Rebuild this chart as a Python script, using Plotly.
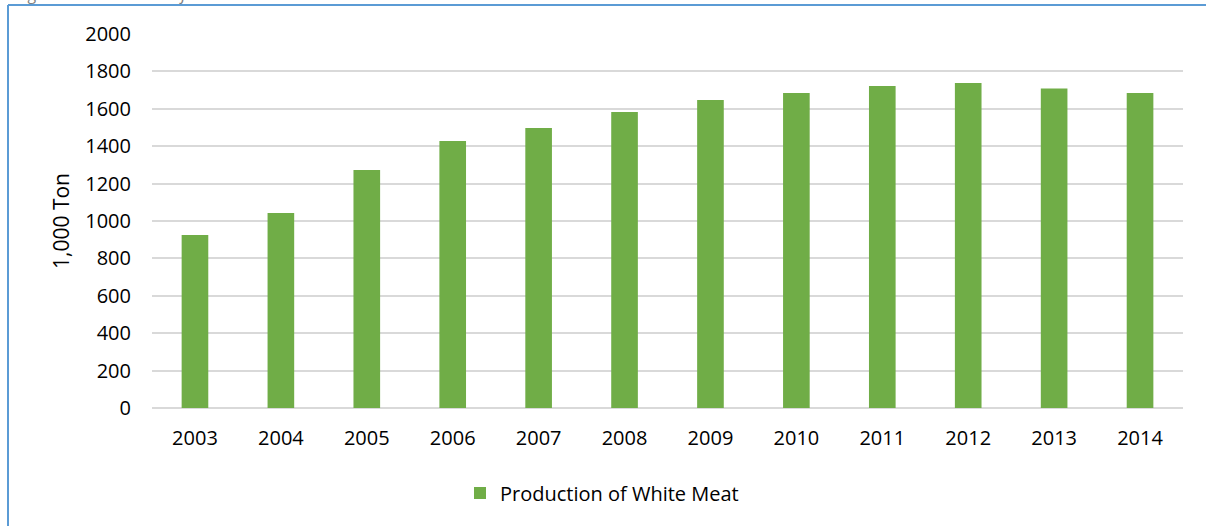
import plotly.graph_objects as go

years = ["2003", "2004", "2005", "2006", "2007", "2008",
         "2009", "2010", "2011", "2012", "2013", "2014"]
production = [925, 1043, 1273, 1428, 1497, 1583, 1647, 1684, 1722, 1738, 1709, 1685]
series_name = "Production of White Meat"
y_ticks = [0, 200, 400, 600, 800, 1000, 1200, 1400, 1600, 1800, 2000]

W, H = 1206, 526
M_L, M_R, M_T, M_B = 152, 23, 34, 118
plot_w = W - M_L - M_R
plot_h = H - M_T - M_B


def px_to_paper_x(px):
    return (px - M_L) / plot_w


def px_to_paper_y(py):
    return (H - M_B - py) / plot_h


fig = go.Figure()
fig.add_trace(go.Bar(
    x=years, y=production, name=series_name,
    marker=dict(color="#70ad47", line=dict(width=0)),
    width=0.31,
))

frame_color = "#5b9bd5"
fig.add_shape(type="line", xref="paper", yref="paper",
              x0=px_to_paper_x(8), x1=px_to_paper_x(W + 5),
              y0=px_to_paper_y(5), y1=px_to_paper_y(5),
              line=dict(color=frame_color, width=2))
fig.add_shape(type="line", xref="paper", yref="paper",
              x0=px_to_paper_x(8), x1=px_to_paper_x(8),
              y0=px_to_paper_y(5), y1=px_to_paper_y(H + 5),
              line=dict(color=frame_color, width=2))

# caption above the frame, running off the top edge
fig.add_annotation(text="<i>Figure 4: Production of White Meat</i>",
                   xref="paper", yref="paper",
                   x=px_to_paper_x(14), y=px_to_paper_y(-7),
                   xanchor="left", yanchor="middle", showarrow=False,
                   font=dict(family="Open Sans", size=17, color="#7f7f7f"))

fig.update_layout(
    width=W, height=H,
    margin=dict(l=M_L, r=M_R, t=M_T, b=M_B),
    paper_bgcolor="white", plot_bgcolor="white",
    font=dict(family="Open Sans", size=20, color="#000000"),
    showlegend=True,
    legend=dict(orientation="h", x=px_to_paper_x(460), xanchor="left",
                y=px_to_paper_y(493), yanchor="middle",
                font=dict(size=20)),
    bargap=0.69,
)
fig.update_xaxes(type="category", showgrid=False, showline=False,
                 ticks="", tickfont=dict(size=20), ticklabelstandoff=16)
fig.update_yaxes(range=[0, 2000], tickvals=y_ticks, showgrid=True,
                 gridcolor="#d9d9d9", gridwidth=1.5, zeroline=True,
                 zerolinecolor="#d9d9d9", zerolinewidth=1.5,
                 ticks="", tickfont=dict(size=20), ticklabelstandoff=20,
                 title=dict(text="1,000 Ton", font=dict(size=21), standoff=9))

fig.write_html("out.html")
